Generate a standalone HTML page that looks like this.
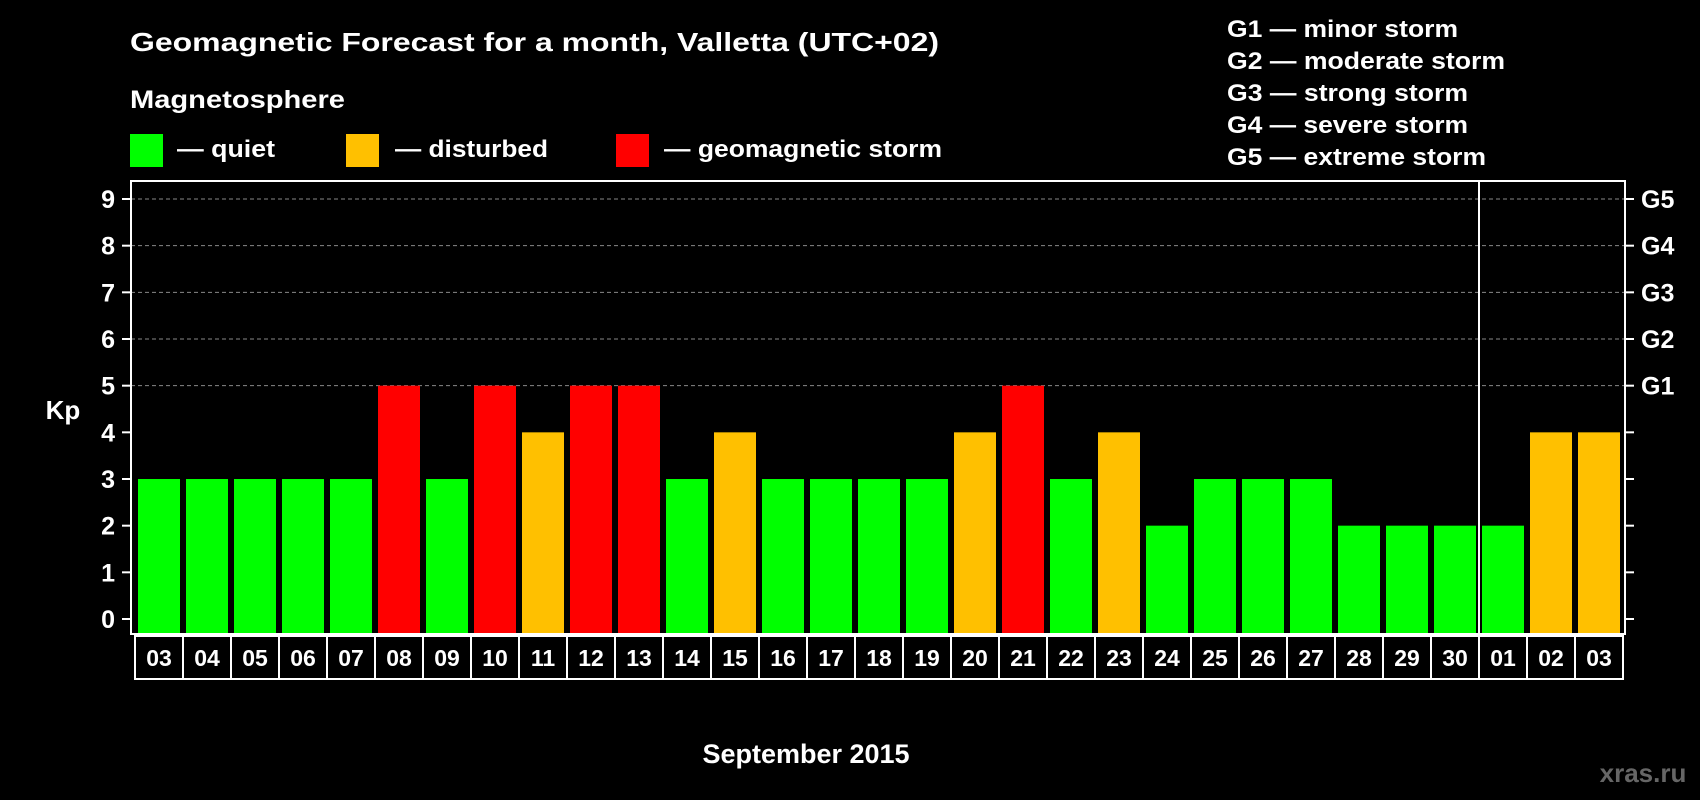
<!DOCTYPE html>
<html><head><meta charset="utf-8"><style>
html,body{margin:0;padding:0;background:#000;}
svg{display:block;font-family:"Liberation Sans",Arial,sans-serif;font-weight:bold;}
</style></head><body>
<svg id="chart" width="1700" height="800" viewBox="0 0 1700 800">
<rect x="0" y="0" width="1700" height="800" fill="#000"/>
<text x="130" y="51" font-size="26" fill="#fff" textLength="809" lengthAdjust="spacingAndGlyphs">Geomagnetic Forecast for a month, Valletta (UTC+02)</text>
<text x="130" y="108" font-size="25" fill="#fff" textLength="215" lengthAdjust="spacingAndGlyphs">Magnetosphere</text>
<rect x="130" y="134" width="33" height="33" fill="#00ff00"/>
<text x="177" y="157" font-size="24" fill="#fff" textLength="98" lengthAdjust="spacingAndGlyphs">— quiet</text>
<rect x="346" y="134" width="33" height="33" fill="#ffc000"/>
<text x="395" y="157" font-size="24" fill="#fff" textLength="153" lengthAdjust="spacingAndGlyphs">— disturbed</text>
<rect x="616" y="134" width="33" height="33" fill="#ff0000"/>
<text x="664" y="157" font-size="24" fill="#fff" textLength="278" lengthAdjust="spacingAndGlyphs">— geomagnetic storm</text>
<g font-size="24" fill="#fff">
<text x="1227" y="37" textLength="231" lengthAdjust="spacingAndGlyphs">G1 — minor storm</text>
<text x="1227" y="69" textLength="278" lengthAdjust="spacingAndGlyphs">G2 — moderate storm</text>
<text x="1227" y="101" textLength="241" lengthAdjust="spacingAndGlyphs">G3 — strong storm</text>
<text x="1227" y="133" textLength="241" lengthAdjust="spacingAndGlyphs">G4 — severe storm</text>
<text x="1227" y="165" textLength="259" lengthAdjust="spacingAndGlyphs">G5 — extreme storm</text>
</g>
<text x="63" y="419" font-size="26" fill="#fff" text-anchor="middle">Kp</text>
<g id="grid"></g>
<g id="bars"></g>
<g id="axes"></g>
<text x="806" y="763" font-size="27" fill="#fff" text-anchor="middle">September 2015</text>
<text x="1643" y="782" font-size="26" fill="#666" text-anchor="middle">xras.ru</text>
</svg>
<script>
const days = ["03","04","05","06","07","08","09","10","11","12","13","14","15","16","17","18","19","20","21","22","23","24","25","26","27","28","29","30","01","02","03"];
const kpValues = [3,3,3,3,3,5,3,5,4,5,5,3,4,3,3,3,3,4,5,3,4,2,3,3,3,2,2,2,2,4,4];
const yTicks = [0,1,2,3,4,5,6,7,8,9];
const gLabels = ["G1","G2","G3","G4","G5"];
const gLevels = [5,6,7,8,9];
const monthBreakIndex = 28;

const NS="http://www.w3.org/2000/svg";
const L=131,R=1625,T=181,B=634,slot=48,bx0=138,bw=42;
function yS(v){return 619-(619-199)*v/9;}
function xS(i){return bx0+i*slot;}
function mk(tag,attrs,parent){const e=document.createElementNS(NS,tag);for(const k in attrs)e.setAttribute(k,attrs[k]);parent.appendChild(e);return e;}
function colorFor(v){return v>=5?"#ff0000":(v>=4?"#ffc000":"#00ff00");}
const grid=document.getElementById("grid"),bars=document.getElementById("bars"),axes=document.getElementById("axes");

gLevels.forEach(v=>{
  const ln=mk("line",{x1:L,x2:R,y1:yS(v),y2:yS(v),stroke:"#888","stroke-width":1,"stroke-dasharray":"4,3"},grid);
  
  
});

kpValues.forEach((v,i)=>{
  const r=mk("rect",{x:xS(i),y:yS(v),width:bw,height:B-yS(v),fill:colorFor(v)},bars);
  
  
});

const frame=mk("rect",{x:L,y:T,width:R-L,height:B-T,fill:"none",stroke:"#fff","stroke-width":2},axes);


const sep=mk("line",{x1:xS(monthBreakIndex)-3,x2:xS(monthBreakIndex)-3,y1:T,y2:B,stroke:"#fff","stroke-width":2},axes);



yTicks.forEach(v=>{
  const t=mk("line",{x1:L-9,x2:L,y1:yS(v),y2:yS(v),stroke:"#fff","stroke-width":2},axes);
  
  
  const t2=mk("line",{x1:R,x2:R+9,y1:yS(v),y2:yS(v),stroke:"#fff","stroke-width":2},axes);
  
  
  const tx=mk("text",{x:115,y:yS(v)+9,"font-size":25,fill:"#fff","text-anchor":"end"},axes);
  tx.textContent=v;
  
  
});
gLevels.forEach((v,i)=>{
  const tx=mk("text",{x:1641,y:yS(v)+9,"font-size":25,fill:"#fff"},axes);
  tx.textContent=gLabels[i];
  
  
});

const boxL=135,boxT=636,boxB=679;
const box=mk("rect",{x:boxL,y:boxT,width:days.length*slot,height:boxB-boxT,fill:"none",stroke:"#fff","stroke-width":2},axes);


days.forEach((d,i)=>{
  if(i>0){
    const dv=mk("line",{x1:boxL+i*slot,x2:boxL+i*slot,y1:boxT,y2:boxB,stroke:"#fff","stroke-width":2},axes);
    
    
  }
  const tx=mk("text",{x:boxL+i*slot+slot/2,y:666,"font-size":23,fill:"#fff","text-anchor":"middle"},axes);
  tx.textContent=d;
  
  
});
</script>
</body></html>
